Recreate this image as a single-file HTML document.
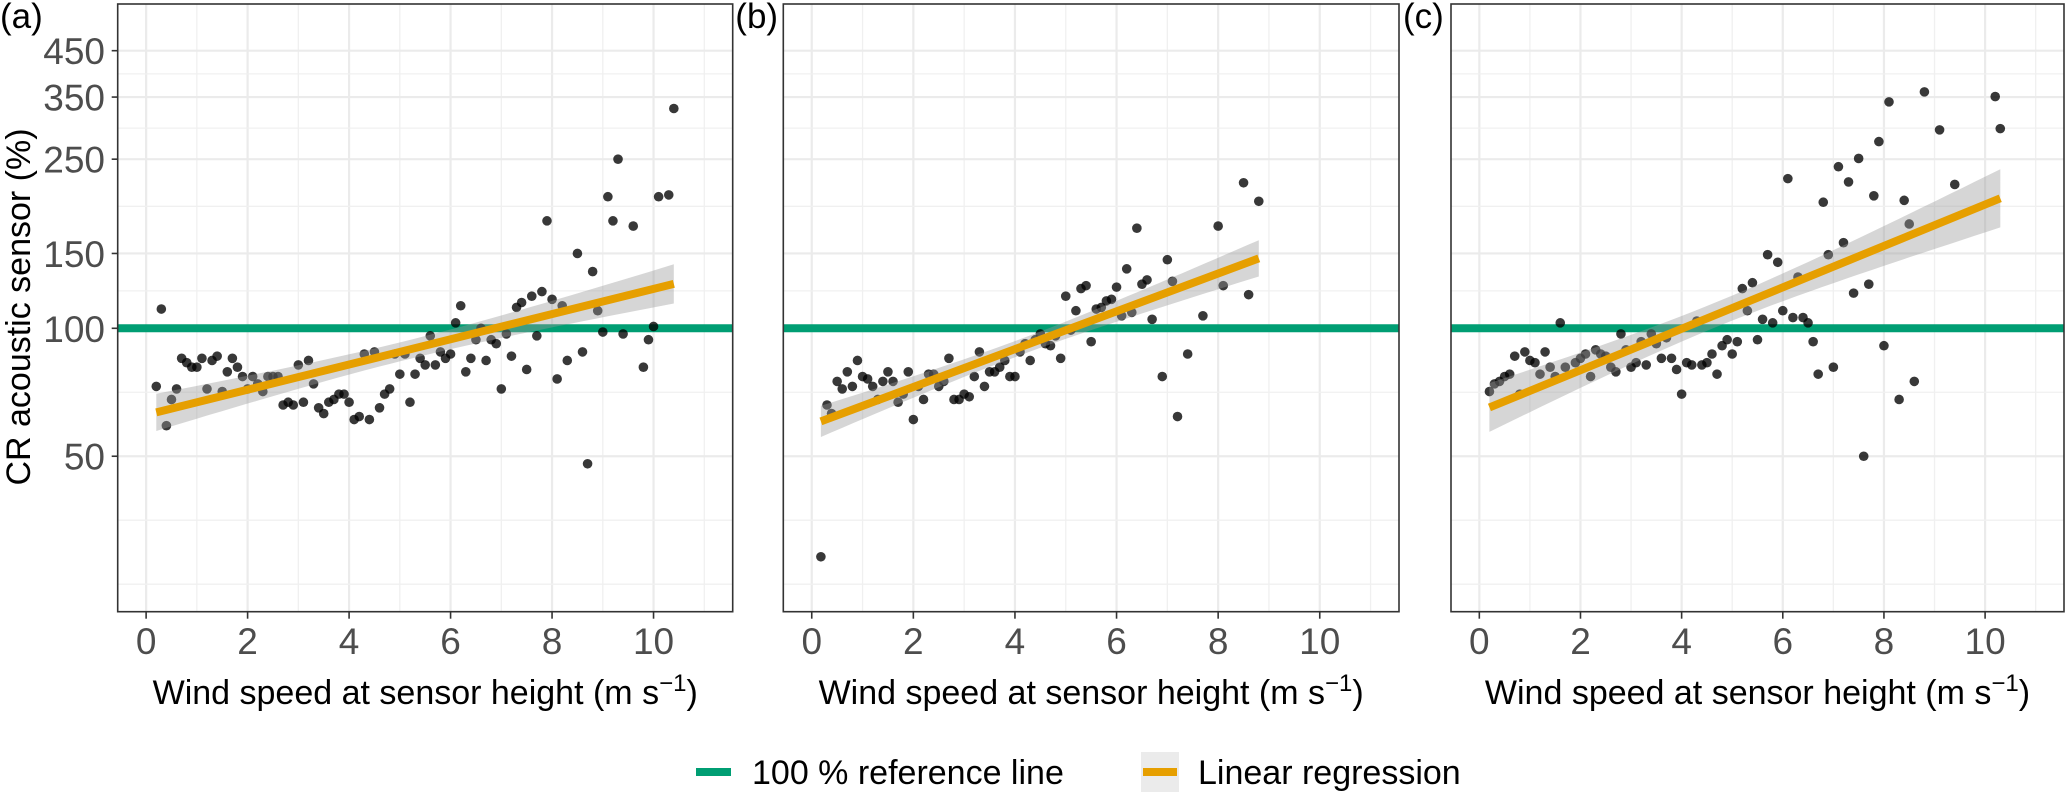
<!DOCTYPE html>
<html><head><meta charset="utf-8">
<style>
html,body{margin:0;padding:0;background:#fff;}
svg{display:block;font-family:"Liberation Sans",Arial,sans-serif;}
</style></head>
<body>
<svg id="chart" width="2067" height="798" viewBox="0 0 2067 798" xmlns="http://www.w3.org/2000/svg">
</svg>
<script>
// ---- data ----
const xTicks = [0, 2, 4, 6, 8, 10];
const yTicks = [50, 100, 150, 250, 350, 450];
const yTickLabels = ["50", "100", "150", "250", "350", "450"];
const refValue = 100;
const panelLabels = ["(a)", "(b)", "(c)"];

const aX = [0.2,0.3,0.4,0.5,0.6,0.7,0.8,0.9,1.0,1.1,1.2,1.3,1.4,1.5,1.6,1.7,1.8,1.9,2.0,2.1,2.2,2.3,2.4,2.5,2.6,2.7,2.8,2.9,3.0,3.1,3.2,3.3,3.4,3.5,3.6,3.7,3.8,3.9,4.0,4.1,4.2,4.3,4.4,4.5,4.6,4.7,4.8,4.9,5.0,5.1,5.2,5.3,5.4,5.5,5.6,5.7,5.8,5.9,6.0,6.1,6.2,6.3,6.4,6.5,6.6,6.7,6.8,6.9,7.0,7.1,7.2,7.3,7.4,7.5,7.6,7.7,7.8,7.9,8.0,8.1,8.2,8.3,8.5,8.6,8.7,8.8,8.9,9.0,9.1,9.2,9.3,9.4,9.6,9.8,9.9,10.0,10.1,10.3,10.4];
const aY = [73,111,59,68,72,85,83,81,81,85,72,84,86,71,79,85,81,77,72,77,74,71,77,77,77,66,67,66,82,67,84,74,65,63,67,68,70,70,67,61,62,87,61,88,65,70,72,87,78,87,67,78,85,82,96,82,88,85,87,103,113,79,85,94,100,84,94,92,72,97,86,112,115,80,119,96,122,179,117,76,113,84,150,88,48,136,110,98,204,179,250,97,174,81,94,101,204,206,329];

const bX = [0.18,0.3,0.39,0.5,0.6,0.7,0.8,0.9,1.0,1.1,1.2,1.3,1.4,1.5,1.6,1.7,1.8,1.9,2.0,2.1,2.2,2.3,2.4,2.5,2.6,2.7,2.8,2.9,3.0,3.1,3.2,3.3,3.4,3.5,3.6,3.7,3.8,3.9,4.0,4.1,4.2,4.3,4.4,4.5,4.6,4.7,4.8,4.9,5.0,5.1,5.2,5.3,5.4,5.5,5.6,5.7,5.8,5.9,6.0,6.1,6.2,6.3,6.4,6.5,6.6,6.7,6.9,7.0,7.1,7.2,7.4,7.7,8.0,8.1,8.5,8.6,8.8];
const bY = [29,66,63,75,72,79,73,84,77,76,73,68,75,79,75,67,70,79,61,73,68,78,78,73,75,85,68,68,70,69,77,88,73,79,79,81,84,77,77,88,92,84,94,97,92,91,96,85,119,99,110,124,126,93,111,112,116,117,125,107,138,109,172,127,130,105,77,145,129,62,87,107,174,126,220,120,199];

const cX = [0.2,0.3,0.4,0.5,0.6,0.7,0.8,0.9,1.0,1.1,1.2,1.3,1.4,1.5,1.6,1.7,1.9,2.0,2.1,2.2,2.3,2.4,2.5,2.6,2.7,2.8,2.9,3.0,3.1,3.2,3.3,3.4,3.5,3.6,3.7,3.8,3.9,4.0,4.1,4.2,4.3,4.4,4.5,4.6,4.7,4.8,4.9,5.0,5.1,5.2,5.3,5.4,5.5,5.6,5.7,5.8,5.9,6.0,6.1,6.2,6.3,6.4,6.5,6.6,6.7,6.8,6.9,7.0,7.1,7.2,7.3,7.4,7.5,7.6,7.7,7.8,7.9,8.0,8.1,8.3,8.4,8.5,8.6,8.8,9.1,9.4,10.2,10.3];
const cY = [71,74,75,77,78,86,70,88,84,83,78,88,81,77,103,81,83,85,87,77,89,87,86,81,79,97,89,81,83,93,82,97,92,85,95,85,80,70,83,82,104,82,83,87,78,91,94,87,93,124,110,128,94,105,149,103,143,110,225,106,132,106,103,93,78,198,149,81,240,159,221,121,251,50,127,205,275,91,341,68,200,176,75,360,293,218,351,295];

// ---- layout ----
const TOP = 4, BOT = 611.7;
const XMIN = -0.56, XMAX = 11.56;
const panelsL = [117.7, 783.3, 1451];
const panelsR = [732.7, 1399, 2064];
const Y100 = 328.3, PER_DEC = 425;
const NS = "http://www.w3.org/2000/svg";
const svg = document.getElementById("chart");

function el(tag, attrs, parent) {
  const e = document.createElementNS(NS, tag);
  for (const k in attrs) e.setAttribute(k, attrs[k]);
  (parent || svg).appendChild(e);
  return e;
}
function yScale(v) { return Y100 - PER_DEC * Math.log10(v / refValue); }
function xScaleFor(i) {
  const l = panelsL[i], r = panelsR[i];
  return x => l + (x - XMIN) / (XMAX - XMIN) * (r - l);
}
function fit(xs, ys) {
  const n = xs.length;
  const ly = ys.map(v => Math.log10(v));
  const mx = xs.reduce((a, b) => a + b, 0) / n;
  const my = ly.reduce((a, b) => a + b, 0) / n;
  let sxx = 0, sxy = 0;
  for (let i = 0; i < n; i++) { sxx += (xs[i] - mx) ** 2; sxy += (xs[i] - mx) * (ly[i] - my); }
  const b = sxy / sxx, a = my - b * mx;
  let sse = 0;
  for (let i = 0; i < n; i++) sse += (ly[i] - a - b * xs[i]) ** 2;
  const s = Math.sqrt(sse / (n - 2));
  return { a, b, s, n, mx, sxx };
}

const datasets = [[aX, aY], [bX, bY], [cX, cY]];
const panelNames = ["panel-a", "panel-b", "panel-c"];

datasets.forEach((ds, i) => {
  const xs = ds[0], ys = ds[1];
  const sx = xScaleFor(i);
  const L = panelsL[i], R = panelsR[i];
  const g = el("g", {});
  
  
  const clipId = "clip" + i;
  const cp = el("clipPath", { id: clipId }, g);
  el("rect", { x: L, y: TOP, width: R - L, height: BOT - TOP }, cp);

  const grid = el("g", { "clip-path": "url(#" + clipId + ")" }, g);
  
  
  for (let x = 1; x <= 11; x += 2) {
    el("line", { x1: sx(x), x2: sx(x), y1: TOP, y2: BOT, stroke: "#f0f0f0", "stroke-width": 1.3 }, grid);
  }
  xTicks.forEach(t => {
    el("line", { x1: sx(t), x2: sx(t), y1: TOP, y2: BOT, stroke: "#ebebeb", "stroke-width": 2.2 }, grid);
  });
  const lt = yTicks.map(v => Math.log10(v));
  const minors = [];
  for (let k = 0; k < lt.length - 1; k++) minors.push((lt[k] + lt[k + 1]) / 2);
  minors.push(Math.log10(25) * 0.5 + Math.log10(50) * 0.5);
  minors.push(Math.log10(25));
  minors.forEach(l => {
    const y = yScale(Math.pow(10, l));
    el("line", { x1: L, x2: R, y1: y, y2: y, stroke: "#f0f0f0", "stroke-width": 1.3 }, grid);
  });
  yTicks.forEach(v => {
    el("line", { x1: L, x2: R, y1: yScale(v), y2: yScale(v), stroke: "#ebebeb", "stroke-width": 2.2 }, grid);
  });

  const ref = el("line", { x1: L, x2: R, y1: yScale(refValue), y2: yScale(refValue), stroke: "#009E73", "stroke-width": 8 }, g);
  
  

  const pts = el("g", { "clip-path": "url(#" + clipId + ")" }, g);
  
  
  xs.forEach((x, k) => {
    const c = el("circle", { cx: sx(x), cy: yScale(ys[k]), r: 4.8, fill: "#000", "fill-opacity": 0.78 }, pts);
    
    
  });

  const f = fit(xs, ys);
  const x0 = Math.min(...xs), x1 = Math.max(...xs);
  const N = 40, tcrit = 1.98;
  const upper = [], lower = [];
  for (let k = 0; k <= N; k++) {
    const x = x0 + (x1 - x0) * k / N;
    const yhat = f.a + f.b * x;
    const se = f.s * Math.sqrt(1 / f.n + (x - f.mx) ** 2 / f.sxx);
    upper.push([sx(x), yScale(Math.pow(10, yhat + tcrit * se))]);
    lower.push([sx(x), yScale(Math.pow(10, yhat - tcrit * se))]);
  }
  const bandPts = upper.concat(lower.reverse()).map(p => p[0].toFixed(1) + "," + p[1].toFixed(1)).join(" ");
  const band = el("polygon", { points: bandPts, fill: "#999999", "fill-opacity": 0.4 }, g);
  
  
  const reg = el("line", {
    x1: sx(x0), y1: yScale(Math.pow(10, f.a + f.b * x0)),
    x2: sx(x1), y2: yScale(Math.pow(10, f.a + f.b * x1)),
    stroke: "#E69F00", "stroke-width": 8
  }, g);
  
  

  const border = el("rect", { x: L, y: TOP, width: R - L, height: BOT - TOP, fill: "none", stroke: "#333333", "stroke-width": 1.6 }, g);
  
  

  xTicks.forEach(t => {
    el("line", { x1: sx(t), x2: sx(t), y1: BOT, y2: BOT + 7, stroke: "#333333", "stroke-width": 1.6 }, g);
    const tx = el("text", { x: sx(t), y: 654, "text-anchor": "middle", "font-size": 37, fill: "#4d4d4d" }, g);
    tx.textContent = String(t);
    
    
  });
  const xt = el("text", { x: (L + R) / 2, y: 704, "text-anchor": "middle", "font-size": 34, fill: "#000" }, g);
  xt.innerHTML = 'Wind speed at sensor height (m s<tspan dy="-13" font-size="24">−1</tspan><tspan dy="13">)</tspan>';
  
  

  const pl = el("text", { x: L - (i === 0 ? 117.7 : 48), y: 28, "font-size": 35, fill: "#000" }, g);
  pl.textContent = panelLabels[i];
  
  

  if (i === 0) {
    yTicks.forEach((v, k) => {
      el("line", { x1: L - 6, x2: L, y1: yScale(v), y2: yScale(v), stroke: "#333333", "stroke-width": 1.6 }, g);
      const ty = el("text", { x: 105, y: yScale(v) + 13.5, "text-anchor": "end", "font-size": 37, fill: "#4d4d4d" }, g);
      ty.textContent = yTickLabels[k];
      
      
    });
  }
});

const yt = el("text", { x: 0, y: 0, transform: "translate(30,307) rotate(-90)", "text-anchor": "middle", "font-size": 34, fill: "#000" });
yt.textContent = "CR acoustic sensor (%)";



const lg = el("g", {});


const k1 = el("rect", { x: 696, y: 768, width: 35, height: 8, fill: "#009E73" }, lg);


const t1 = el("text", { x: 752, y: 784, "font-size": 34, fill: "#000" }, lg);
t1.textContent = "100 % reference line";


const kb = el("rect", { x: 1141, y: 752, width: 38, height: 40, fill: "#ebebeb" }, lg);


const k2 = el("rect", { x: 1143, y: 768, width: 34, height: 8, fill: "#E69F00" }, lg);


const t2 = el("text", { x: 1198, y: 784, "font-size": 34, fill: "#000" }, lg);
t2.textContent = "Linear regression";


</script>
</body></html>
